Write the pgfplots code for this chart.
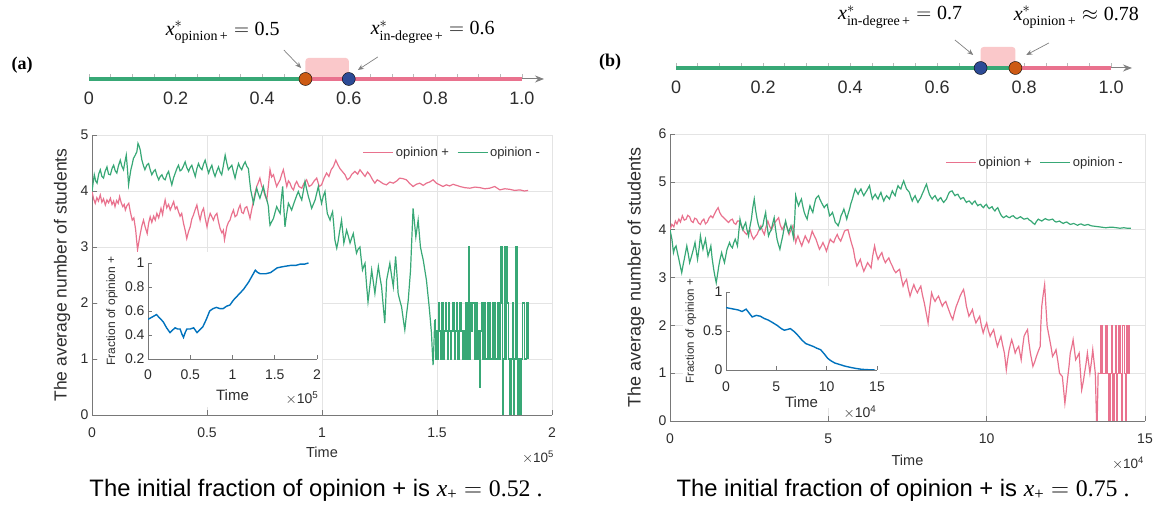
\documentclass[border=0pt]{standalone}
\usepackage{fontspec}
\setmainfont{Liberation Sans}
\newfontfamily\tnr{Liberation Serif}
\usepackage{amsmath}
\usepackage{pgfplots}
\pgfplotsset{compat=1.18}
\usetikzlibrary{arrows.meta}

\definecolor{pinkline}{RGB}{233,114,142}
\definecolor{greenline}{RGB}{56,168,118}
\definecolor{blueline}{RGB}{0,114,189}
\definecolor{rectpink}{RGB}{250,200,202}
\definecolor{orangedot}{RGB}{205,90,20}
\definecolor{bluedot}{RGB}{45,75,150}
\definecolor{axgray}{RGB}{120,120,120}
\definecolor{gridgray}{RGB}{228,228,228}
\definecolor{labgray}{RGB}{45,45,45}

\pgfplotsset{
  mainax/.style={
    scale only axis, axis lines=left,
    axis line style={draw=axgray, line width=0.7pt, -},
    tick align=inside, major tick length=5pt,
    tick style={draw=axgray, line width=0.6pt},
    grid=major, major grid style={draw=gridgray, line width=0.6pt},
    ticklabel style={font=\fontsize{14}{16}\selectfont, text=labgray},
    xticklabel style={yshift=-9pt},
    /pgf/number format/assume math mode=true,
    label style={text=labgray},
    legend style={draw=none, fill=none, legend columns=2,
      font=\fontsize{13}{15}\selectfont, text=labgray,
      /tikz/every even column/.append style={column sep=6pt}},
    legend image code/.code={\draw[#1, line width=1pt] (0pt,0pt) -- (30pt,0pt);},
  },
  insetax/.style={
    scale only axis, axis lines=left,
    axis line style={draw=axgray, line width=0.7pt, -},
    tick align=inside, major tick length=4pt,
    tick style={draw=axgray, line width=0.6pt},
    ticklabel style={font=\fontsize{14}{16}\selectfont, text=labgray},
    xticklabel style={yshift=-7pt},
    /pgf/number format/assume math mode=true,
    label style={text=labgray},
  },
  lineax/.style={
    scale only axis, clip=false, height=60pt,
    ymin=0, ymax=1, axis y line=none, axis x line=bottom,
    x axis line style={draw=gray, line width=1pt, -{Stealth[length=9pt,width=7pt]}},
    xtick={0,0.2,0.4,0.6,0.8,1}, xticklabels={0,0.2,0.4,0.6,0.8,1.0},
    minor xtick={0.05,0.1,0.15,0.25,0.3,0.35,0.45,0.5,0.55,0.65,0.7,0.75,0.85,0.9,0.95},
    tick align=inside, major tick length=5pt, minor tick length=5pt,
    tick style={draw=gray!55, line width=0.6pt},
    xticklabel style={font=\fontsize{18}{20}\selectfont, text=labgray, yshift=-9pt},
    /pgf/number format/assume math mode=true,
  },
}

\begin{document}
\begin{tikzpicture}[x=1pt,y=1pt]
\useasboundingbox (0,0) rectangle (1158,510);

% ---------- number line (a)
\begin{axis}[lineax, at={(89pt,431pt)}, anchor=south west, width=455pt, xmin=0, xmax=1.051]
  \addplot[fill=rectpink, draw=none, rounded corners=3pt] coordinates {(0.5,0)(0.5,0.35)(0.6,0.35)(0.6,0)} \closedcycle;
  \addplot[greenline, line width=3.5pt] coordinates {(0,0)(0.5,0)};
  \addplot[pinkline, line width=3.5pt] coordinates {(0.5,0)(1,0)};
  \addplot[only marks, mark=*, mark size=6.5pt, mark options={fill=orangedot, draw=none}] coordinates {(0.5,0)};
  \addplot[only marks, mark=*, mark size=6.5pt, mark options={fill=bluedot, draw=none}] coordinates {(0.6,0)};
  \draw[gray, line width=0.7pt, -{Stealth[length=6pt,width=5pt]}] (axis cs:0.45,0.483) -- (axis cs:0.49,0.183);
  \draw[gray, line width=0.7pt, -{Stealth[length=6pt,width=5pt]}] (axis cs:0.667,0.367) -- (axis cs:0.621,0.15);
  \node[font=\tnr\fontsize{20}{22}\selectfont] at (axis cs:0.309,0.783) {$\textit{x}^{*}_{\text{opinion\,+}} = \text{0.5}$};
  \node[font=\tnr\fontsize{20}{22}\selectfont] at (axis cs:0.794,0.783) {$\textit{x}^{*}_{\text{in-degree\,+}} = \text{0.6}$};
\end{axis}
\node[font=\tnr\bfseries\fontsize{18}{20}\selectfont] at (22,445) {(a)};

% ---------- number line (b)
\begin{axis}[lineax, at={(676pt,442pt)}, anchor=south west, width=456pt, xmin=0, xmax=1.048]
  \addplot[fill=rectpink, draw=none, rounded corners=3pt] coordinates {(0.7,0)(0.7,0.35)(0.78,0.35)(0.78,0)} \closedcycle;
  \addplot[greenline, line width=3.5pt] coordinates {(0,0)(0.78,0)};
  \addplot[pinkline, line width=3.5pt] coordinates {(0.78,0)(1,0)};
  \addplot[only marks, mark=*, mark size=6.5pt, mark options={fill=bluedot, draw=none}] coordinates {(0.7,0)};
  \addplot[only marks, mark=*, mark size=6.5pt, mark options={fill=orangedot, draw=none}] coordinates {(0.78,0)};
  \draw[gray, line width=0.7pt, -{Stealth[length=6pt,width=5pt]}] (axis cs:0.641,0.467) -- (axis cs:0.683,0.217);
  \draw[gray, line width=0.7pt, -{Stealth[length=6pt,width=5pt]}] (axis cs:0.857,0.417) -- (axis cs:0.805,0.217);
  \node[font=\tnr\fontsize{20}{22}\selectfont] at (axis cs:0.515,0.85) {$\textit{x}^{*}_{\text{in-degree\,+}} = \text{0.7}$};
  \node[font=\tnr\fontsize{20}{22}\selectfont] at (axis cs:0.920,0.85) {$\textit{x}^{*}_{\text{opinion\,+}} \approx \text{0.78}$};
\end{axis}
\node[font=\tnr\bfseries\fontsize{18}{20}\selectfont] at (610,448) {(b)};

% ---------- main (a)
\begin{axis}[mainax, at={(92pt,95pt)}, anchor=south west, width=460pt, height=280pt,
  xmin=0, xmax=2, ymin=0, ymax=5, xtick={0,0.5,1,1.5,2}, ytick={0,1,2,3,4,5},
  xlabel={Time}, ylabel={The average number of students},
  xlabel style={at={(rel axis cs:0.5,0)}, anchor=center, yshift=-37pt, font=\fontsize{14.5}{16}\selectfont},
  ylabel style={at={(rel axis cs:0,0.5)}, anchor=center, yshift=30pt, font=\fontsize{17.5}{19}\selectfont},
  legend style={at={(0.985,0.971)}, anchor=north east}]
\addplot[pinkline, line width=1.2pt] coordinates {
(0,3.99)(0.007,3.86)(0.014,3.78)(0.021,3.88)(0.028,3.82)(0.036,3.93)(0.043,3.80)(0.05,3.86)(0.058,3.75)(0.065,3.84)
(0.072,3.79)(0.08,3.87)(0.087,3.76)(0.094,3.82)(0.10,3.72)(0.107,3.83)(0.114,3.78)(0.12,3.9)(0.127,3.79)(0.134,3.72)
(0.14,3.76)(0.145,3.66)(0.152,3.74)(0.16,3.78)(0.167,3.62)(0.175,3.48)(0.182,3.52)(0.19,3.30)(0.194,3.12)(0.198,2.95)
(0.204,3.10)(0.21,3.24)(0.217,3.38)(0.224,3.48)(0.231,3.36)(0.24,3.24)(0.246,3.42)(0.253,3.54)(0.26,3.44)(0.268,3.55)
(0.275,3.48)(0.282,3.60)(0.29,3.52)(0.30,3.69)(0.307,3.58)(0.312,3.72)(0.318,3.84)(0.325,3.70)(0.333,3.76)(0.34,3.66)
(0.348,3.74)(0.355,3.81)(0.362,3.68)(0.369,3.72)(0.376,3.63)(0.383,3.55)(0.39,3.60)(0.398,3.42)(0.405,3.30)(0.412,3.15)
(0.42,3.28)(0.427,3.36)(0.434,3.50)(0.441,3.57)(0.448,3.66)(0.456,3.75)(0.463,3.60)(0.47,3.48)(0.477,3.62)(0.485,3.69)
(0.492,3.52)(0.50,3.36)(0.507,3.50)(0.514,3.6)(0.521,3.54)(0.528,3.48)(0.535,3.56)(0.543,3.6)(0.55,3.45)(0.557,3.33)
(0.565,3.25)(0.571,3.30)(0.576,3.13)(0.581,3.24)(0.586,3.36)(0.593,3.44)(0.60,3.48)(0.607,3.58)(0.615,3.66)(0.622,3.54)
(0.63,3.57)(0.637,3.68)(0.644,3.75)(0.651,3.62)(0.658,3.6)(0.666,3.70)(0.673,3.72)(0.68,3.62)(0.687,3.51)(0.694,3.66)
(0.70,3.78)(0.708,3.95)(0.716,4.08)(0.723,4.15)(0.73,4.23)(0.737,4.10)(0.745,4.02)(0.752,3.92)(0.76,3.84)(0.767,4.10)
(0.774,4.38)(0.781,4.25)(0.789,4.29)(0.796,4.18)(0.803,4.08)(0.81,4.14)(0.818,4.2)(0.825,4.30)(0.832,4.38)(0.84,4.22)
(0.847,4.08)(0.854,4.18)(0.861,4.14)(0.868,4.06)(0.876,4.02)(0.883,4.12)(0.89,4.17)(0.9,4.08)(0.912,4.05)(0.922,4.14)
(0.933,4.2)(0.944,4.08)(0.955,4.11)(0.966,4.18)(0.977,4.23)(0.988,4.08)(0.998,4.11)(1.01,4.24)(1.02,4.32)(1.03,4.26)
(1.04,4.38)(1.05,4.44)(1.06,4.55)(1.07,4.46)(1.078,4.4)(1.09,4.34)(1.1,4.29)(1.11,4.20)(1.12,4.23)(1.13,4.30)
(1.143,4.35)(1.155,4.30)(1.165,4.38)(1.176,4.32)(1.187,4.26)(1.198,4.34)(1.208,4.29)(1.22,4.20)(1.23,4.14)(1.24,4.20)
(1.252,4.17)(1.266,4.13)(1.28,4.11)(1.295,4.16)(1.31,4.14)(1.325,4.18)(1.338,4.23)(1.352,4.22)(1.367,4.2)(1.38,4.14)
(1.396,4.08)(1.41,4.12)(1.425,4.14)(1.44,4.10)(1.454,4.14)(1.468,4.16)(1.483,4.2)(1.497,4.14)(1.512,4.11)(1.526,4.08)
(1.541,4.11)(1.555,4.09)(1.57,4.12)(1.585,4.10)(1.6,4.08)(1.62,4.06)(1.643,4.05)(1.665,4.07)(1.686,4.06)(1.708,4.04)
(1.729,4.05)(1.751,4.08)(1.773,4.02)(1.795,4.04)(1.816,4.03)(1.838,4.01)(1.86,4.02)(1.88,4.00)(1.896,4.01)
};
\addlegendentry{opinion +}
\addplot[greenline, line width=1.2pt] coordinates {
(0,3.99)(0.005,4.15)(0.01,4.29)(0.016,4.18)(0.022,4.14)(0.029,4.30)(0.036,4.38)(0.043,4.26)(0.05,4.23)(0.057,4.35)
(0.065,4.43)(0.072,4.30)(0.08,4.29)(0.087,4.40)(0.094,4.46)(0.101,4.36)(0.108,4.32)(0.115,4.45)(0.123,4.55)(0.13,4.44)
(0.137,4.38)(0.143,4.52)(0.149,4.64)(0.154,4.40)(0.159,4.11)(0.164,4.25)(0.169,4.38)(0.175,4.48)(0.18,4.58)(0.188,4.64)
(0.195,4.7)(0.2,4.85)(0.205,4.80)(0.21,4.73)(0.214,4.62)(0.217,4.55)(0.224,4.45)(0.23,4.38)(0.238,4.46)(0.246,4.49)
(0.253,4.38)(0.26,4.29)(0.268,4.35)(0.275,4.38)(0.282,4.28)(0.29,4.2)(0.297,4.26)(0.304,4.29)(0.311,4.22)(0.318,4.2)
(0.326,4.30)(0.333,4.35)(0.34,4.22)(0.347,4.11)(0.355,4.24)(0.362,4.32)(0.369,4.40)(0.376,4.46)(0.383,4.36)(0.39,4.38)
(0.398,4.45)(0.405,4.52)(0.412,4.42)(0.42,4.35)(0.427,4.42)(0.434,4.46)(0.441,4.36)(0.449,4.26)(0.456,4.40)(0.463,4.49)
(0.47,4.42)(0.478,4.38)(0.485,4.48)(0.492,4.55)(0.5,4.42)(0.507,4.32)(0.514,4.40)(0.521,4.46)(0.528,4.34)(0.535,4.26)
(0.543,4.36)(0.55,4.43)(0.557,4.34)(0.564,4.29)(0.571,4.45)(0.579,4.64)(0.586,4.50)(0.593,4.38)(0.6,4.42)(0.608,4.46)
(0.615,4.34)(0.622,4.23)(0.63,4.38)(0.637,4.49)(0.644,4.42)(0.651,4.38)(0.658,4.46)(0.666,4.52)(0.673,4.44)(0.68,4.4)
(0.685,4.20)(0.69,4.02)(0.696,3.90)(0.702,3.78)(0.709,3.92)(0.716,4.05)(0.723,3.95)(0.73,3.87)(0.738,3.98)(0.745,4.08)
(0.752,3.95)(0.76,3.84)(0.764,3.78)(0.767,3.72)(0.771,3.50)(0.774,3.39)(0.781,3.45)(0.789,3.51)(0.796,3.62)(0.803,3.72)
(0.81,3.66)(0.818,3.6)(0.823,3.85)(0.829,4.08)(0.834,3.70)(0.839,3.36)(0.846,3.58)(0.854,3.78)(0.861,3.72)(0.868,3.66)
(0.876,3.76)(0.883,3.84)(0.89,3.92)(0.897,3.99)(0.905,3.90)(0.912,3.84)(0.919,4.00)(0.926,4.17)(0.934,4.02)(0.941,3.9)
(0.948,3.80)(0.955,3.69)(0.962,3.76)(0.97,3.84)(0.977,3.96)(0.984,4.08)(0.991,3.92)(0.998,3.78)(1.005,3.90)(1.013,3.99)
(1.018,3.78)(1.023,3.6)(1.029,3.54)(1.035,3.48)(1.04,3.56)(1.046,3.63)(1.051,3.40)(1.056,3.13)(1.06,3.05)(1.064,2.98)
(1.07,3.10)(1.075,3.24)(1.08,3.36)(1.085,3.48)(1.09,3.28)(1.095,3.07)(1.101,3.18)(1.107,3.3)(1.114,3.20)(1.122,3.07)
(1.129,3.16)(1.136,3.24)(1.143,3.06)(1.15,2.89)(1.157,2.96)(1.165,3.0)(1.17,2.80)(1.176,2.59)(1.181,2.65)(1.187,2.71)
(1.193,2.36)(1.2,2.02)(1.208,2.30)(1.216,2.59)(1.223,2.38)(1.23,2.17)(1.237,2.41)(1.245,2.65)(1.252,2.46)(1.259,2.29)
(1.266,1.96)(1.273,1.64)(1.277,2.02)(1.281,2.41)(1.288,2.56)(1.295,2.71)(1.302,2.50)(1.31,2.29)(1.315,2.56)(1.32,2.83)
(1.326,2.50)(1.331,2.17)(1.338,2.05)(1.346,1.93)(1.353,1.72)(1.36,1.52)(1.367,1.78)(1.375,2.05)(1.38,2.32)(1.385,2.59)
(1.39,3.10)(1.396,3.69)(1.402,3.44)(1.408,3.18)(1.413,3.33)(1.418,3.48)(1.423,3.24)(1.428,3.0)(1.434,2.88)(1.44,2.77)
(1.447,2.59)(1.454,2.41)(1.46,2.17)(1.466,1.93)(1.471,1.70)(1.476,1.46)(1.48,1.10)(1.483,0.89)(1.487,1.30)(1.49,1.7)
};
\addlegendentry{opinion -}
\addplot[greenline, line width=1.2pt, const plot, forget plot] table {
1.490 1.7
1.494 1.0
1.498 1.5
1.502 1.0
1.506 2.0
1.510 1.5
1.514 1.0
1.518 1.5
1.522 2.0
1.526 1.0
1.530 1.5
1.536 2.0
1.540 1.5
1.546 1.0
1.550 2.0
1.554 1.5
1.558 1.0
1.562 1.5
1.568 2.0
1.574 1.5
1.578 1.0
1.582 1.5
1.586 2.0
1.590 1.0
1.596 1.5
1.600 2.0
1.606 1.5
1.610 1.0
1.616 1.5
1.622 1.0
1.626 2.0
1.632 1.0
1.636 3.0
1.640 1.0
1.646 2.0
1.652 1.5
1.656 2.0
1.662 1.0
1.668 2.0
1.674 1.0
1.678 1.5
1.684 0.5
1.688 1.5
1.694 2.0
1.700 1.0
1.706 2.0
1.712 1.0
1.718 2.0
1.722 1.0
1.728 2.0
1.734 1.0
1.740 2.0
1.744 1.0
1.750 2.0
1.756 1.0
1.762 2.0
1.768 1.0
1.774 2.0
1.778 3.0
1.784 0.0
1.788 1.0
1.792 3.0
1.798 1.0
1.802 3.0
1.808 2.0
1.812 1.0
1.816 0.0
1.822 1.0
1.828 2.0
1.832 0.0
1.838 1.0
1.842 3.0
1.848 1.0
1.852 0.0
1.858 1.0
1.862 0.0
1.866 1.0
1.872 2.0
1.880 1.0
1.888 2.0
1.896 1.0
};
\end{axis}
\node[font=\fontsize{13.5}{15}\selectfont, text=labgray] at (538,53) {$\times$10\textsuperscript{5}};

% inset (a)
\fill[white] (98,103) rectangle (322,258);
\begin{axis}[insetax, at={(148pt,151pt)}, anchor=south west, width=169pt, height=96pt,
  xmin=0, xmax=2, ymin=0.2, ymax=1, xtick={0,0.5,1,1.5,2}, ytick={0.2,0.4,0.6,0.8,1},
  xlabel={Time}, ylabel={Fraction of opinion +},
  xlabel style={at={(rel axis cs:0.5,0)}, anchor=center, yshift=-36pt, font=\fontsize{15}{17}\selectfont},
  ylabel style={at={(rel axis cs:0,0.5)}, anchor=center, yshift=36pt, font=\fontsize{12}{14}\selectfont}]
\addplot[blueline, line width=1.4pt] coordinates {
(0,0.53)(0.05,0.55)(0.1,0.57)(0.14,0.54)(0.18,0.51)(0.22,0.46)(0.26,0.42)(0.29,0.44)(0.32,0.46)(0.35,0.45)
(0.38,0.45)(0.4,0.41)(0.42,0.38)(0.44,0.42)(0.46,0.45)(0.5,0.45)(0.54,0.46)(0.56,0.44)(0.58,0.42)(0.61,0.44)
(0.65,0.47)(0.69,0.53)(0.73,0.6)(0.77,0.62)(0.81,0.63)(0.85,0.62)(0.89,0.62)(0.93,0.64)(0.97,0.65)(1.01,0.69)
(1.05,0.72)(1.09,0.75)(1.13,0.78)(1.16,0.81)(1.19,0.84)(1.23,0.89)(1.27,0.94)(1.3,0.92)(1.33,0.91)(1.39,0.91)
(1.45,0.92)(1.49,0.94)(1.53,0.96)(1.6,0.97)(1.69,0.98)(1.75,0.98)(1.8,0.99)(1.85,0.99)(1.9,1.0)
};
\end{axis}
\node[font=\fontsize{14}{16}\selectfont, text=labgray] at (302,112) {$\times$10\textsuperscript{5}};

% ---------- main (b)
\begin{axis}[mainax, at={(670pt,89pt)}, anchor=south west, width=475pt, height=287pt,
  xmin=0, xmax=15, ymin=0, ymax=6, xtick={0,5,10,15}, ytick={0,1,2,3,4,5,6},
  xlabel={Time}, ylabel={The average number of students},
  xlabel style={at={(rel axis cs:0.5,0)}, anchor=center, yshift=-39pt, font=\fontsize{14.5}{16}\selectfont},
  ylabel style={at={(rel axis cs:0,0.5)}, anchor=center, yshift=34pt, font=\fontsize{18}{20}\selectfont},
  legend style={at={(0.964,0.934)}, anchor=north east}]
\addplot[pinkline, line width=1.2pt] coordinates {
(0,4.0)(0.06,4.11)(0.12,4.06)(0.17,4.18)(0.22,4.12)(0.28,4.22)(0.33,4.16)(0.39,4.29)(0.45,4.20)(0.51,4.22)
(0.56,4.30)(0.62,4.27)(0.67,4.18)(0.73,4.15)(0.78,4.24)(0.84,4.22)(0.9,4.14)(0.96,4.11)(1.01,4.18)(1.07,4.22)
(1.12,4.12)(1.18,4.16)(1.23,4.24)(1.29,4.29)(1.35,4.25)(1.4,4.32)(1.46,4.40)(1.52,4.46)(1.57,4.36)(1.63,4.29)
(1.68,4.26)(1.74,4.22)(1.8,4.18)(1.85,4.15)(1.91,4.20)(1.97,4.22)(2.02,4.14)(2.08,4.11)(2.13,4.18)(2.19,4.18)
(2.25,4.08)(2.3,4.0)(2.36,3.94)(2.42,3.9)(2.47,3.96)(2.53,4.0)(2.58,3.88)(2.64,3.8)(2.7,3.86)(2.75,3.9)
(2.81,4.00)(2.87,4.08)(2.92,3.98)(2.98,3.9)(3.03,4.05)(3.09,4.18)(3.14,4.08)(3.2,4.0)(3.26,4.08)(3.31,4.15)
(3.37,4.20)(3.43,4.25)(3.48,4.10)(3.54,4.0)(3.6,4.08)(3.65,4.15)(3.71,4.02)(3.76,3.9)(3.82,4.00)(3.88,4.08)
(3.92,3.90)(3.97,3.73)(4.0,3.80)(4.04,3.87)(4.1,3.76)(4.16,3.66)(4.21,3.76)(4.27,3.87)(4.32,3.80)(4.38,3.73)
(4.44,3.85)(4.49,3.97)(4.55,3.88)(4.61,3.8)(4.66,3.70)(4.72,3.59)(4.78,3.66)(4.83,3.73)(4.89,3.64)(4.94,3.55)
(5.0,3.68)(5.06,3.8)(5.11,3.76)(5.17,3.73)(5.22,3.82)(5.28,3.9)(5.33,3.82)(5.39,3.76)(5.45,3.86)(5.51,3.97)
(5.56,3.99)(5.62,4.0)(5.67,3.87)(5.73,3.72)(5.79,3.59)(5.84,3.40)(5.9,3.24)(5.95,3.30)(6.01,3.38)(6.06,3.25)
(6.12,3.13)(6.18,3.22)(6.24,3.31)(6.29,3.26)(6.35,3.2)(6.4,3.45)(6.46,3.66)(6.51,3.50)(6.57,3.38)(6.63,3.46)
(6.69,3.52)(6.74,3.40)(6.8,3.31)(6.85,3.36)(6.91,3.41)(6.96,3.32)(7.02,3.24)(7.07,3.16)(7.13,3.1)(7.19,3.14)
(7.25,3.17)(7.3,3.00)(7.36,2.82)(7.41,2.90)(7.47,2.96)(7.52,2.78)(7.58,2.61)(7.64,2.74)(7.7,2.85)(7.75,2.76)
(7.81,2.68)(7.86,2.75)(7.92,2.82)(7.97,2.64)(8.03,2.47)(8.09,2.26)(8.15,2.05)(8.2,2.36)(8.26,2.68)(8.31,2.58)
(8.37,2.5)(8.42,2.56)(8.48,2.61)(8.54,2.50)(8.6,2.4)(8.65,2.46)(8.71,2.5)(8.76,2.40)(8.82,2.29)(8.87,2.20)
(8.93,2.12)(8.98,2.26)(9.04,2.4)(9.1,2.50)(9.16,2.61)(9.21,2.68)(9.27,2.75)(9.32,2.58)(9.36,2.4)(9.4,2.30)
(9.44,2.19)(9.5,2.26)(9.55,2.33)(9.6,2.18)(9.66,2.05)(9.72,2.12)(9.78,2.19)(9.83,2.00)(9.89,1.84)(9.94,1.95)
(10.0,2.05)(10.05,1.90)(10.11,1.77)(10.16,1.84)(10.22,1.91)(10.28,1.72)(10.34,1.56)(10.39,1.66)(10.45,1.77)(10.5,1.60)
(10.56,1.42)(10.59,1.25)(10.62,1.07)(10.66,1.28)(10.71,1.49)(10.75,1.60)(10.79,1.7)(10.85,1.56)(10.9,1.42)(10.95,1.50)
(11.01,1.56)(11.05,1.42)(11.09,1.28)(11.13,1.52)(11.18,1.77)(11.23,1.84)(11.29,1.91)(11.33,1.66)(11.38,1.42)(11.42,1.28)
(11.46,1.14)(11.52,1.24)(11.57,1.35)(11.63,1.46)(11.69,1.56)(11.71,2.0)(11.74,2.4)(11.78,2.62)(11.83,2.85)(11.87,2.40)
(11.91,1.98)(11.95,1.84)(11.99,1.7)(12.04,1.52)(12.08,1.35)(12.14,1.42)(12.19,1.49)(12.25,1.24)(12.3,1.0)(12.35,0.96)
(12.39,0.93)(12.43,0.65)(12.47,0.37)(12.51,0.60)(12.55,0.86)(12.6,1.14)(12.64,1.42)(12.69,1.56)(12.73,1.7)(12.77,1.49)
(12.81,1.28)(12.87,1.35)(12.92,1.42)(12.96,1.03)(13.0,0.65)(13.05,0.82)(13.09,1.0)(13.14,1.21)(13.18,1.42)(13.22,1.21)
(13.26,1.0)(13.31,1.25)(13.35,1.49)(13.39,1.24)(13.43,1.0)(13.47,0.0)(13.49,0.0)(13.52,1.0)(13.54,1.0)
};
\addlegendentry{opinion +}
\addplot[greenline, line width=1.2pt] coordinates {
(0,4.0)(0.06,3.8)(0.11,3.52)(0.15,3.62)(0.19,3.66)(0.24,3.50)(0.28,3.38)(0.33,3.22)(0.37,3.1)(0.41,3.25)
(0.45,3.38)(0.49,3.52)(0.53,3.66)(0.58,3.48)(0.62,3.31)(0.67,3.42)(0.71,3.52)(0.75,3.62)(0.79,3.73)(0.83,3.55)
(0.87,3.38)(0.92,3.62)(0.96,3.87)(1.0,3.72)(1.04,3.59)(1.08,3.70)(1.12,3.8)(1.16,3.62)(1.2,3.45)(1.25,3.56)
(1.29,3.66)(1.33,3.40)(1.38,3.17)(1.42,3.02)(1.46,2.89)(1.5,3.06)(1.54,3.24)(1.58,3.38)(1.63,3.52)(1.67,3.42)
(1.72,3.31)(1.76,3.45)(1.8,3.59)(1.84,3.66)(1.88,3.73)(1.92,3.66)(1.97,3.62)(2.01,3.72)(2.06,3.8)(2.1,3.72)
(2.13,3.66)(2.17,3.94)(2.21,4.22)(2.25,4.10)(2.3,4.0)(2.34,4.08)(2.39,4.15)(2.43,4.00)(2.48,3.87)(2.52,4.05)
(2.57,4.22)(2.61,4.44)(2.66,4.64)(2.7,4.42)(2.75,4.22)(2.79,4.10)(2.84,4.0)(2.88,4.04)(2.93,4.08)(2.97,4.22)
(3.02,4.36)(3.06,4.10)(3.11,3.87)(3.15,3.94)(3.2,4.0)(3.24,4.12)(3.29,4.25)(3.33,4.02)(3.38,3.8)(3.42,3.70)
(3.47,3.59)(3.51,3.72)(3.56,3.87)(3.6,4.02)(3.65,4.18)(3.69,4.06)(3.74,3.94)(3.78,4.01)(3.82,4.08)(3.86,3.96)
(3.9,3.83)(3.94,4.25)(3.97,4.71)(4.01,4.60)(4.06,4.5)(4.1,4.57)(4.15,4.64)(4.19,4.50)(4.24,4.36)(4.28,4.29)
(4.33,4.22)(4.37,4.36)(4.42,4.5)(4.46,4.43)(4.51,4.36)(4.55,4.50)(4.6,4.64)(4.64,4.68)(4.69,4.71)(4.73,4.64)
(4.78,4.57)(4.82,4.52)(4.87,4.46)(4.91,4.50)(4.96,4.53)(5.0,4.41)(5.04,4.29)(5.09,4.32)(5.13,4.36)(5.18,4.25)
(5.22,4.15)(5.27,4.12)(5.31,4.08)(5.36,4.18)(5.4,4.29)(5.45,4.36)(5.49,4.43)(5.54,4.32)(5.58,4.22)(5.62,4.32)
(5.67,4.43)(5.71,4.54)(5.76,4.64)(5.8,4.74)(5.85,4.85)(5.89,4.80)(5.94,4.74)(5.98,4.80)(6.03,4.85)(6.07,4.78)
(6.12,4.71)(6.16,4.76)(6.21,4.81)(6.25,4.86)(6.3,4.92)(6.34,4.78)(6.39,4.64)(6.43,4.69)(6.48,4.74)(6.52,4.69)
(6.57,4.64)(6.61,4.71)(6.66,4.78)(6.7,4.69)(6.75,4.6)(6.79,4.66)(6.84,4.71)(6.88,4.68)(6.93,4.64)(6.97,4.72)
(7.02,4.81)(7.06,4.76)(7.11,4.71)(7.15,4.82)(7.2,4.92)(7.24,4.88)(7.29,4.85)(7.33,4.94)(7.38,5.02)(7.42,4.94)
(7.47,4.85)(7.51,4.82)(7.56,4.78)(7.6,4.69)(7.65,4.6)(7.69,4.66)(7.74,4.71)(7.78,4.64)(7.83,4.57)(7.87,4.62)
(7.92,4.67)(7.96,4.74)(8.01,4.81)(8.05,4.88)(8.1,4.95)(8.14,4.85)(8.19,4.74)(8.23,4.69)(8.28,4.64)(8.32,4.68)
(8.37,4.71)(8.41,4.66)(8.46,4.6)(8.5,4.64)(8.55,4.67)(8.59,4.62)(8.64,4.57)(8.68,4.60)(8.73,4.64)(8.77,4.71)
(8.82,4.78)(8.86,4.80)(8.91,4.81)(8.95,4.76)(9.0,4.71)(9.04,4.73)(9.09,4.74)(9.13,4.69)(9.18,4.64)(9.22,4.66)
(9.27,4.67)(9.31,4.62)(9.36,4.57)(9.4,4.59)(9.45,4.6)(9.5,4.56)(9.54,4.53)(9.58,4.57)(9.63,4.6)(9.67,4.55)
(9.72,4.5)(9.76,4.52)(9.81,4.53)(9.85,4.49)(9.9,4.46)(9.94,4.50)(9.99,4.53)(10.03,4.48)(10.08,4.44)(10.12,4.46)
(10.17,4.48)(10.21,4.43)(10.26,4.39)(10.3,4.43)(10.35,4.46)(10.4,4.38)(10.44,4.32)(10.48,4.28)(10.53,4.25)(10.58,4.27)
(10.62,4.29)(10.68,4.26)(10.73,4.25)(10.78,4.28)(10.84,4.29)(10.9,4.25)(10.96,4.23)(11.01,4.25)(11.07,4.27)(11.13,4.24)
(11.18,4.22)(11.24,4.23)(11.29,4.24)(11.35,4.20)(11.4,4.18)(11.46,4.14)(11.52,4.11)(11.57,4.17)(11.63,4.22)(11.68,4.20)
(11.74,4.18)(11.8,4.21)(11.85,4.23)(11.91,4.21)(11.97,4.2)(12.02,4.21)(12.08,4.22)(12.14,4.18)(12.19,4.16)(12.25,4.17)
(12.3,4.18)(12.36,4.15)(12.42,4.13)(12.47,4.15)(12.53,4.16)(12.59,4.13)(12.64,4.11)(12.7,4.12)(12.75,4.13)(12.81,4.11)
(12.87,4.09)(12.92,4.11)(12.98,4.12)(13.04,4.10)(13.09,4.09)(13.15,4.10)(13.2,4.11)(13.26,4.09)(13.31,4.08)(13.42,4.07)
(13.54,4.06)(13.65,4.05)(13.76,4.04)(13.88,4.05)(13.99,4.05)(14.1,4.04)(14.21,4.03)(14.33,4.04)(14.44,4.03)(14.55,4.03)
};
\addlegendentry{opinion -}
\addplot[pinkline, line width=1.2pt, const plot, forget plot] table {
13.54 1.0
13.60 2.0
13.64 1.0
13.70 1.0
13.76 2.0
13.80 1.0
13.86 0.0
13.90 1.0
13.94 2.0
13.98 0.0
14.02 1.0
14.06 2.0
14.10 0.0
14.14 1.0
14.18 2.0
14.22 1.0
14.26 0.0
14.30 2.0
14.34 1.0
14.38 0.0
14.42 2.0
14.46 1.0
14.50 2.0
14.52 1.0
};
\end{axis}
\node[font=\fontsize{13.5}{15}\selectfont, text=labgray] at (1128,47) {$\times$10\textsuperscript{4}};

% inset (b)
\fill[white] (683,102) rectangle (880,224);
\begin{axis}[insetax, at={(726pt,140pt)}, anchor=south west, width=151pt, height=78pt,
  xmin=0, xmax=15, ymin=0, ymax=1, xtick={0,5,10,15}, ytick={0,0.5,1},
  xticklabel style={yshift=-1pt},
  xlabel={Time}, ylabel={Fraction of opinion +},
  xlabel style={at={(rel axis cs:0.5,0)}, anchor=center, yshift=-32pt, font=\fontsize{15}{17}\selectfont},
  ylabel style={at={(rel axis cs:0,0.5)}, anchor=center, yshift=35pt, font=\fontsize{11.5}{13}\selectfont}]
\addplot[blueline, line width=1.4pt] coordinates {
(0,0.8)(0.4,0.79)(0.8,0.78)(1.2,0.77)(1.6,0.75)(2.0,0.78)(2.3,0.73)(2.6,0.68)(3.0,0.70)(3.4,0.69)
(3.8,0.66)(4.2,0.64)(4.6,0.61)(5.1,0.57)(5.5,0.53)(5.8,0.51)(6.1,0.52)(6.4,0.53)(6.8,0.49)(7.1,0.45)
(7.5,0.39)(7.9,0.34)(8.3,0.32)(8.7,0.30)(9.0,0.28)(9.4,0.26)(9.8,0.20)(10.1,0.15)(10.4,0.12)(10.8,0.09)
(11.3,0.07)(11.8,0.05)(12.3,0.035)(12.9,0.02)(13.4,0.01)(13.9,0.005)(14.4,0.002)(14.8,0)
};
\end{axis}
\node[font=\fontsize{14}{16}\selectfont, text=labgray] at (860,98) {$\times$10\textsuperscript{4}};

% ---------- captions
\node[font=\fontsize{23.8}{27}\selectfont] at (316,20) {The initial fraction of opinion + is {\tnr $\textit{x}_{\text{+}} = \text{0.52}$ .}};
\node[font=\fontsize{23.8}{27}\selectfont] at (903,20) {The initial fraction of opinion + is {\tnr $\textit{x}_{\text{+}} = \text{0.75}$ .}};
\end{tikzpicture}
\end{document}
